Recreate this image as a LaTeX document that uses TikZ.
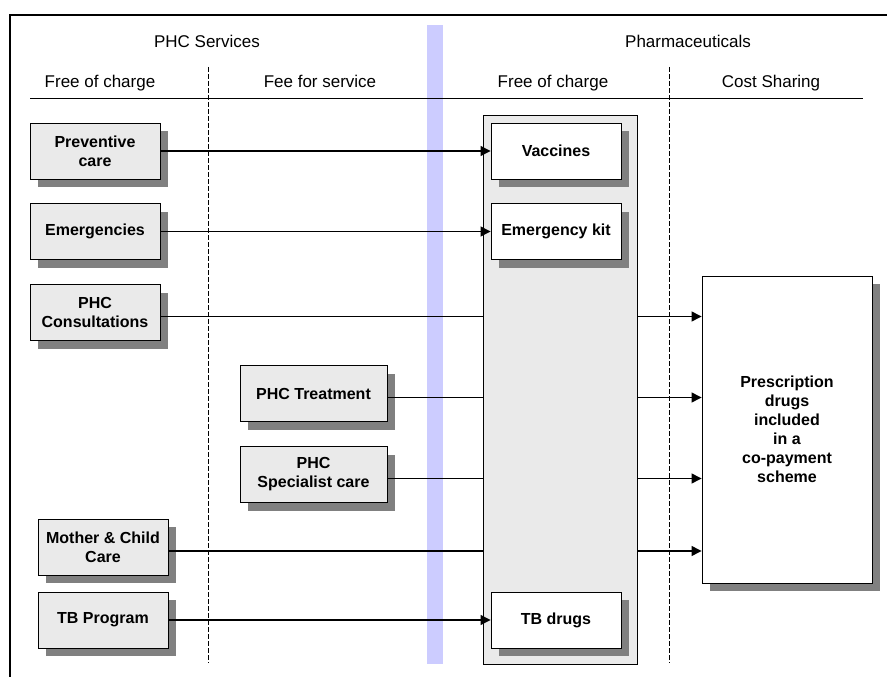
\documentclass[tikz,border=0pt]{standalone}
\usepackage{fontspec}
\setmainfont{Liberation Sans}
\usetikzlibrary{arrows.meta,shadows}
\definecolor{boxgrey}{HTML}{EAEAEA}
\definecolor{shadowgrey}{HTML}{808080}
\definecolor{barblue}{HTML}{CCCCFF}

\begin{document}
\begin{tikzpicture}[x=1pt,y=-1pt,
        head/.style={font=\fontsize{17}{20}\selectfont,text height=12.5pt,text depth=3.5pt},
        item/.style={draw,line width=0.9pt,fill=boxgrey,inner sep=0pt,
            minimum width=130pt,minimum height=56pt,align=center,
            font=\bfseries\fontsize{16}{19}\selectfont,
            drop shadow={shadow xshift=8pt,shadow yshift=-8pt,fill=shadowgrey,draw=none,opacity=1}},
        drug/.style={item,fill=white},
        link/.style={line width=1.3pt},
        arrow/.style={link,-{Triangle[length=10pt,width=10pt]}},
        divider/.style={line width=0.9pt,dash pattern=on 5pt off 2pt}]
        \useasboundingbox (0,0) rectangle (887,677);
        \draw [line width=2pt] (10,677) -- (10,15) -- (887,15);
        \fill [barblue] (427,25) rectangle (443,664);
        \draw [divider] (208,67) -- (208,663);
        \draw [divider] (669,67) -- (669,663);
        \draw [line width=1pt] (30,99) -- (863,99);

        \node[head] (phc) at (207,43) {PHC Services};
        \node[head] (pharma) at (688,43) {Pharmaceuticals};
        \node[head] (freea) at (100,83) {Free of charge};
        \node[head] (fee) at (320,83) {Fee for service};
        \node[head] (freeb) at (553,83) {Free of charge};
        \node[head] (cost) at (771,83) {Cost Sharing};

        \node[draw,line width=0.9pt,fill=boxgrey,minimum width=154pt,minimum height=549pt,inner sep=0pt] (pharm) at (560,389.5) {};

        \node[item] (prev) at (95,151) {Preventive\\care};
        \node[item] (emerg) at (95,231.5) {Emergencies};
        \node[item] (consult) at (95,312.5) {PHC\\Consultations};
        \node[item,minimum width=147pt] (treat) at (313.5,393.5) {PHC Treatment};
        \node[item,minimum width=147pt] (spec) at (313.5,474.5) {PHC\\Specialist care};
        \node[item] (mother) at (103,547) {Mother \& Child\\Care};
        \node[item] (tbprog) at (103,620) {TB Program};

        \node[drug] (vacc) at (556,151) {Vaccines};
        \node[drug] (kit) at (556,231.5) {Emergency kit};
        \node[drug] (tbdrugs) at (556,620) {TB drugs};
        \node[drug,minimum width=170pt,minimum height=307pt] (presc) at (787,429.5) {Prescription\\drugs\\included\\in a\\co-payment\\scheme};

        % straight to the free drugs
        \draw [arrow] (prev) -- (vacc);
        \draw [arrow] (emerg) -- (kit);
        \draw [arrow] (tbprog) -- (tbdrugs);

        % through the free column to cost sharing
        \foreach \src in {consult,treat,spec,mother} {
            \draw [link] ([yshift=-4pt]\src.east) -- ([yshift=-4pt]\src.east -| pharm.west);
            \draw [arrow] ([yshift=-4pt]\src.east -| pharm.east) -- ([yshift=-4pt]\src.east -| presc.west);
        }
    \end{tikzpicture}
\end{document}
